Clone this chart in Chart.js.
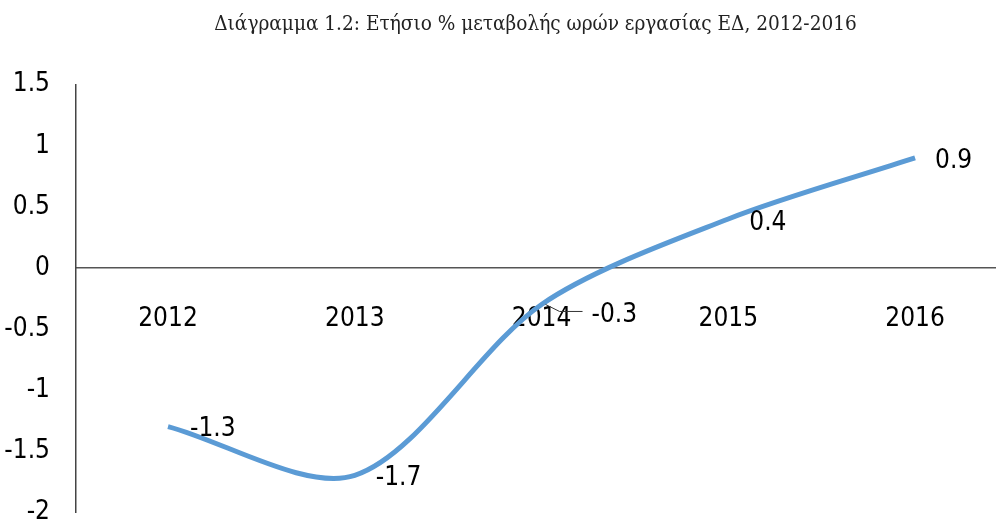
<!DOCTYPE html>
<html>
<head>
<meta charset="utf-8">
<script src="https://cdn.jsdelivr.net/npm/chart.js@4.4.1/dist/chart.umd.min.js"></script>
<style>
  html, body { margin: 0; padding: 0; background: #fff; }
  #wrap { width: 997px; height: 524px; }
</style>
</head>
<body>
<div id="wrap"><canvas id="lineChart"></canvas></div>
<script>
var years = ['2012', '2013', '2014', '2015', '2016'];
var hoursChange = [-1.3, -1.7, -0.3, 0.4, 0.9];
var yTicks = [-2, -1.5, -1, -0.5, 0, 0.5, 1, 1.5];

var sansFamily = '"DejaVu Sans Condensed", "Liberation Sans", sans-serif';
var labelFont = '26px ' + sansFamily;

// data labels, drawn next to each point (Excel style "right")
var pointLabels = {
    id: 'pointLabels',
    afterDatasetsDraw: function (chart, args, opts) {
        var ctx = chart.ctx;
        var meta = chart.getDatasetMeta(0);
        ctx.save();
        ctx.font = labelFont;
        ctx.fillStyle = '#000';
        ctx.textBaseline = 'middle';
        ctx.textAlign = 'left';
        meta.data.forEach(function (pt, i) {
            var off = opts.offsets[i] || [20, 3];
            ctx.fillText(String(hoursChange[i]), pt.x + off[0], pt.y + off[1]);
            var ld = opts.leaders[i];
            if (ld) {
                ctx.strokeStyle = '#333';
                ctx.lineWidth = 1;
                ctx.beginPath();
                ctx.moveTo(pt.x + ld[0][0], pt.y + ld[0][1]);
                for (var k = 1; k < ld.length; k++) ctx.lineTo(pt.x + ld[k][0], pt.y + ld[k][1]);
                ctx.stroke();
            }
        });
        ctx.restore();
    }
};

var ctxL = document.getElementById('lineChart').getContext('2d');
var myLineChart = new Chart(ctxL, {
    type: 'line',
    data: {
        datasets: [{
            label: 'Ετήσιο % μεταβολής',
            data: hoursChange.map(function (v, i) { return { x: i, y: v }; }),
            borderColor: '#5B9BD5',
            borderWidth: 5,
            pointRadius: 0,
            tension: 0.3,
            fill: false,
            clip: false
        }]
    },
    options: {
        responsive: true,
        maintainAspectRatio: false,
        animation: false,
        layout: { padding: { left: 0, right: 2, top: 0, bottom: 12 } },
        plugins: {
            legend: { display: false },
            tooltip: { enabled: false },
            title: {
                display: true,
                fullSize: false,
                text: 'Διάγραμμα 1.2: Ετήσιο % μεταβολής ωρών εργασίας ΕΔ, 2012-2016',
                color: '#222',
                font: { family: '"DejaVu Serif Condensed", "Liberation Serif", serif', size: 20.6, weight: 'normal' },
                padding: { top: 12, bottom: 48 }
            },
            pointLabels: {
                offsets: [[22, 3], [21, 3], [50, 11], [21, 4], [20, 3]],
                leaders: [null, null, [[4, 0], [18, 7], [41, 7]], null, null]
            }
        },
        scales: {
            x: {
                type: 'linear',
                position: { y: 0 },
                min: -0.4926,
                max: 4.428,
                grid: { display: false },
                border: { display: true, color: '#555', width: 1.5 },
                afterBuildTicks: function (scale) {
                    scale.ticks = years.map(function (y, i) { return { value: i }; });
                },
                ticks: {
                    color: '#000',
                    padding: 28,
                    font: { family: sansFamily, size: 26 },
                    callback: function (v) { return years[v]; }
                }
            },
            y: {
                min: -2,
                max: 1.5,
                grid: { display: false, drawTicks: false },
                border: { display: true, color: '#444', width: 1.5 },
                afterBuildTicks: function (scale) {
                    scale.ticks = yTicks.map(function (v) { return { value: v }; });
                },
                afterFit: function (scale) {
                    scale.width = 76;
                    scale.paddingTop = 0;
                    scale.paddingBottom = 0;
                },
                ticks: {
                    color: '#000',
                    padding: 26,
                    font: { family: sansFamily, size: 26 },
                    callback: function (v) { return String(v); }
                }
            }
        }
    },
    plugins: [pointLabels]
});
</script>
</body>
</html>
